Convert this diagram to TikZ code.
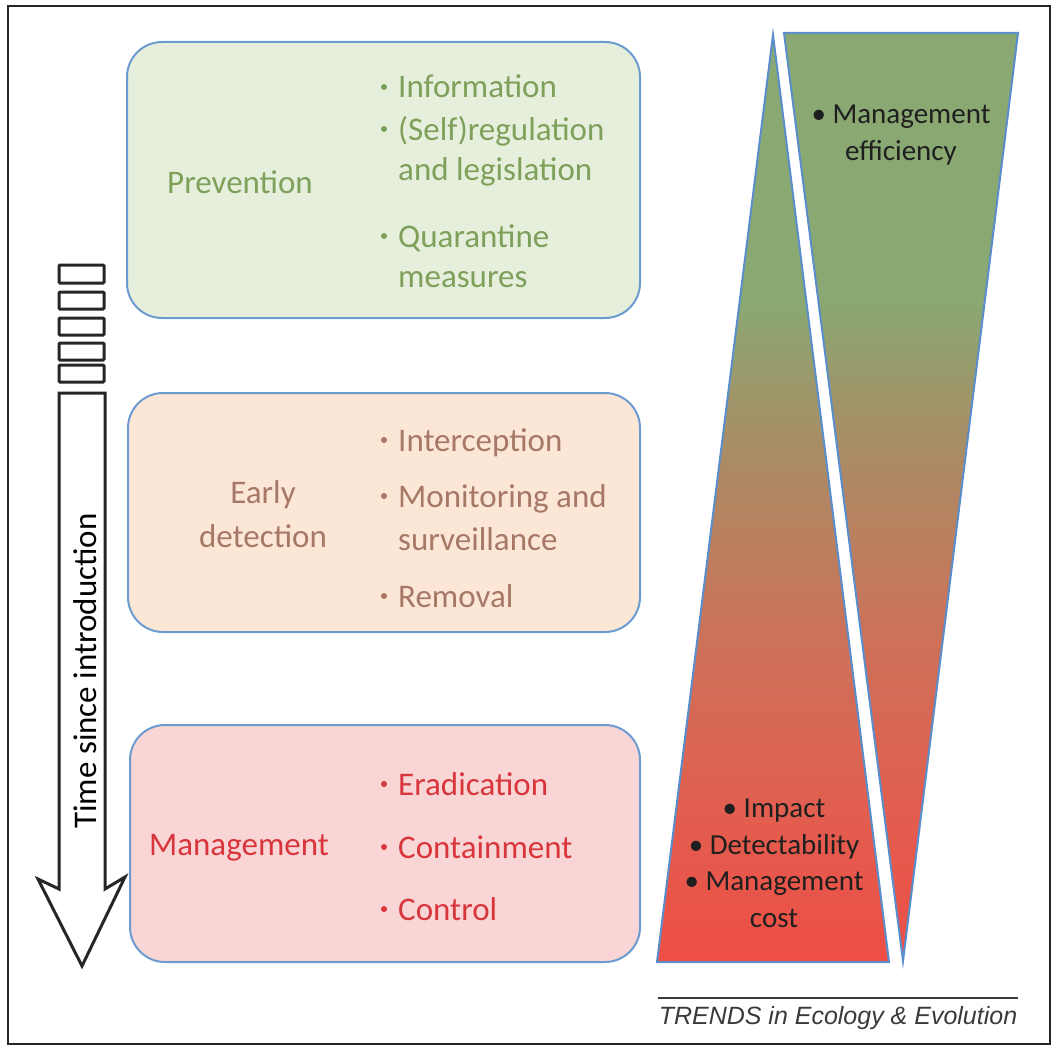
\documentclass[tikz,border=0pt]{standalone}
\usepackage{fontspec}
\setmainfont{Carlito}
\newfontfamily\trendsfont{Liberation Sans}
\usepackage{tikz}
\usetikzlibrary{positioning}
\tikzset{>=latex}

\definecolor{boxline}{HTML}{6C9CCF}
\definecolor{triline}{HTML}{5A8DCB}
\definecolor{prevfill}{HTML}{E6EFDC}
\definecolor{prevtext}{HTML}{7FA05A}
\definecolor{earlyfill}{HTML}{FCE7D7}
\definecolor{earlytext}{HTML}{A67865}
\definecolor{mgmtfill}{HTML}{F9D5D5}
\definecolor{mgmttext}{HTML}{D8363C}
\definecolor{tgreen}{HTML}{8AA872}
\definecolor{tmidA}{HTML}{A68F66}
\definecolor{tmidB}{HTML}{CC7259}
\definecolor{tredA}{HTML}{E15F50}
\definecolor{tred}{HTML}{EE4E45}
\definecolor{trendsgray}{HTML}{3A3A3A}

\pgfdeclareverticalshading{greenred}{100bp}{color(0bp)=(tred); color(25bp)=(tred); color(33.7bp)=(tredA); color(42.7bp)=(tmidB); color(53.5bp)=(tmidA); color(60.6bp)=(tgreen); color(100bp)=(tgreen)}

\tikzset{
  stage/.style={draw=boxline, line width=2pt, rounded corners=35pt},
  stagelbl/.style={font=\fontsize{33}{44}\selectfont, anchor=base, inner sep=0pt, align=center},
  item/.style={font=\fontsize{33}{40}\selectfont, anchor=base west, inner sep=0pt},
  wedge/.style={draw=triline, line width=2pt, shading=greenred},
  wedgetxt/.style={font=\fontsize{29}{36.5}\selectfont, text=black!88, anchor=base, inner sep=0pt, align=center},
  tick/.style={draw=black!85, line width=3pt, rounded corners=1pt}
}

\begin{document}
\begin{tikzpicture}[x=1pt, y=-1pt]
\useasboundingbox (0,0) rectangle (1053,1049);
\draw[line width=2pt, black!85] (8,6) rectangle (1050,1044);

% stage boxes
\draw[stage, fill=prevfill] (127,42) rectangle (640,318);
\draw[stage, fill=earlyfill] (128,393) rectangle (640,632);
\draw[stage, fill=mgmtfill] (130,725) rectangle (640,962);

\node[stagelbl, text=prevtext] (prevlbl) at (240,193) {Prevention};
\node[stagelbl, text=earlytext] (earlylbl) at (263,547) {Early\\detection};
\node[stagelbl, text=mgmttext] (mgmtlbl) at (239,855) {Management};

\foreach \yy/\txt/\bb [count=\i] in {98/Information/1, 140/(Self)regulation/1, 180/and legislation/0, 247/Quarantine/1, 287/measures/0}{
    \node[item, text=prevtext] (prev-\i) at (398,\yy) {\txt};
    \ifnum\bb=1 \fill[prevtext] (384,\yy-11) circle (3); \fi
}
\foreach \yy/\txt/\bb [count=\i] in {451/Interception/1, 507/Monitoring and/1, 550/surveillance/0, 607/Removal/1}{
    \node[item, text=earlytext] (early-\i) at (398,\yy) {\txt};
    \ifnum\bb=1 \fill[earlytext] (384,\yy-11) circle (3); \fi
}
\foreach \yy/\txt [count=\i] in {795/Eradication, 858/Containment, 920/Control}{
    \node[item, text=mgmttext] (mgmt-\i) at (398,\yy) {\txt};
    \fill[mgmttext] (384,\yy-11) circle (3);
}

% time arrow
\foreach \yt/\yb in {265/283, 292/309, 318/335, 343/360, 365/382}{
    \draw[tick] (59,\yt) rectangle (104,\yb);
}
\draw[black!85, line width=3pt, line join=miter, fill=white] (59,393) -- (59,889) -- (38,879) -- (82,966) -- (125,877) -- (105,889) -- (105,393) -- cycle;
\node[rotate=90, font=\fontsize{33}{40}\selectfont, inner sep=0pt] (timelbl) at (85,671) {Time since introduction};

% wedges
\path[wedge] (773,35) -- (889,962) -- (657,962) -- cycle;
\path[wedge] (784,33) -- (1018,33) -- (903,961) -- cycle;

\node[wedgetxt] (eff) at (901,160) {\textbullet\ Management\\efficiency};
\node[wedgetxt] (impact) at (774,927) {\textbullet\ Impact\\\textbullet\ Detectability\\\textbullet\ Management\\cost};

% journal line
\draw[trendsgray, line width=1.5pt] (658,998) -- (1018,998);
\node[font=\trendsfont\itshape\fontsize{25}{30}\selectfont, text=trendsgray, anchor=base, inner sep=0pt] (trends) at (838,1024) {TRENDS in Ecology \& Evolution};

\end{tikzpicture}
\end{document}
